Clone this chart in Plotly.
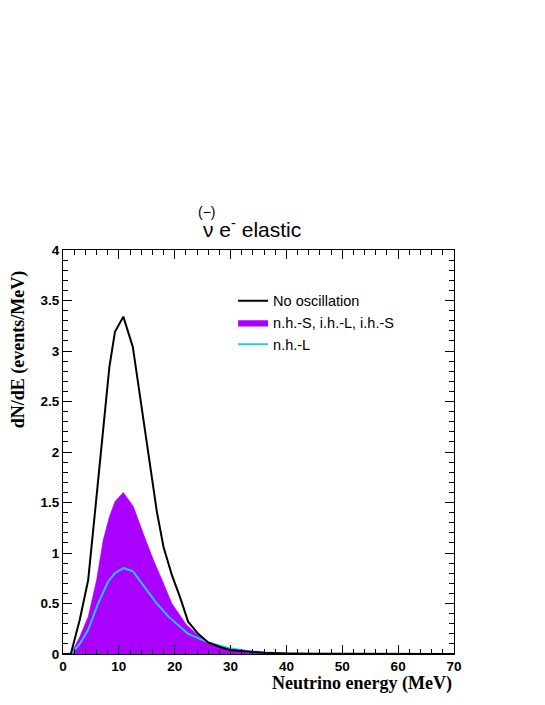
import plotly.graph_objects as go

# energies (MeV) and dN/dE (events/MeV)
e_noosc = [0, 1.4, 3.0, 4.5, 5.7, 6.9, 8.3, 9.3, 10.8, 12.5, 13.8, 15.3, 16.8, 18.0, 19.5, 20.9,
           22.4, 24.2, 26.0, 28.1, 29.9, 33, 36, 40, 45, 70]
y_noosc = [0, 0, 0.34, 0.73, 1.39, 2.09, 2.84, 3.19, 3.34, 3.04, 2.56, 1.99, 1.41, 1.06, 0.78, 0.57,
           0.32, 0.20, 0.115, 0.07, 0.04, 0.025, 0.012, 0.005, 0.002, 0]

e_band = [0, 1.4, 3.0, 4.5, 6.0, 7.2, 8.3, 9.3, 10.8, 12.6, 14.4, 16.2, 18.0, 19.5, 22.1, 24.5,
          26.0, 28.1, 29.9, 33, 36, 40, 45, 70]
y_band = [0, 0, 0.17, 0.37, 0.73, 1.13, 1.36, 1.51, 1.60, 1.46, 1.19, 0.93, 0.70, 0.50, 0.29, 0.17,
          0.115, 0.07, 0.04, 0.025, 0.012, 0.005, 0.002, 0]

e_nhl = [0, 1.4, 3.0, 4.5, 6.3, 8.1, 9.3, 10.8, 12.5, 14.5, 16.8, 18.9, 19.5, 22.4, 26.0, 29.9,
         33, 36, 40, 45, 70]
y_nhl = [0, 0, 0.10, 0.24, 0.50, 0.72, 0.80, 0.85, 0.82, 0.67, 0.50, 0.37, 0.34, 0.20, 0.115, 0.056,
         0.03, 0.015, 0.006, 0.002, 0]

fig = go.Figure()
# fill first, then the two curves on top
fig.add_trace(go.Scatter(x=e_band, y=y_band, mode="lines", name="n.h.-S, i.h.-L, i.h.-S",
                         fill="tozeroy", fillcolor="#aa00ff", line=dict(color="#aa00ff", width=0.5),
                         legendrank=2))
fig.add_trace(go.Scatter(x=e_nhl, y=y_nhl, mode="lines", name="n.h.-L",
                         line=dict(color="#1ec8f5", width=2), legendrank=3))
fig.add_trace(go.Scatter(x=e_noosc, y=y_noosc, mode="lines", name="No oscillation",
                         line=dict(color="black", width=2), legendrank=1))

tickfont = dict(family="Liberation Sans", size=13.5, color="black", weight="bold")
fig.update_xaxes(range=[0, 70], dtick=10, ticks="inside", ticklen=9, tickcolor="black",
                 minor=dict(dtick=2, ticks="inside", ticklen=5, tickcolor="black"),
                 showline=True, linecolor="black", linewidth=1, mirror="ticks",
                 showgrid=False, zeroline=False, tickfont=tickfont)
fig.update_yaxes(range=[0, 4], dtick=0.5, ticks="inside", ticklen=9, tickcolor="black",
                 minor=dict(dtick=0.1, ticks="inside", ticklen=5, tickcolor="black"),
                 showline=True, linecolor="black", linewidth=1, mirror="ticks",
                 showgrid=False, zeroline=False, tickfont=tickfont)

# page body adds ~8px offset, so margins are shifted to land the frame where the reference has it
fig.update_layout(
    width=545, height=705,
    margin=dict(l=55, r=99, t=242, b=59),
    paper_bgcolor="white", plot_bgcolor="white",
    legend=dict(x=0.435, y=0.914, xanchor="left", yanchor="top", bgcolor="rgba(0,0,0,0)",
                traceorder="normal", font=dict(family="Liberation Sans", size=14.5, color="black"),
                tracegroupgap=0),
    annotations=[
        dict(text="ν e<sup>-</sup> elastic", xref="paper", yref="paper", x=0.484, y=1.054,
             xanchor="center", yanchor="middle", showarrow=False,
             font=dict(family="Liberation Sans", size=21, color="black")),
        dict(text="(−)", xref="paper", yref="paper", x=0.369, y=1.094,
             xanchor="center", yanchor="middle", showarrow=False,
             font=dict(family="Liberation Sans", size=14, color="black")),
        dict(text="<b>dN/dE (events/MeV)</b>", xref="paper", yref="paper", x=-0.115, y=0.752,
             xanchor="center", yanchor="middle", textangle=-90, showarrow=False,
             font=dict(family="Liberation Serif", size=18, color="black")),
        dict(text="<b>Neutrino energy (MeV)</b>", xref="paper", yref="paper", x=1.0, y=-0.074,
             xanchor="right", yanchor="middle", showarrow=False,
             font=dict(family="Liberation Serif", size=18, color="black")),
    ],
)

fig.write_html("out.html")
